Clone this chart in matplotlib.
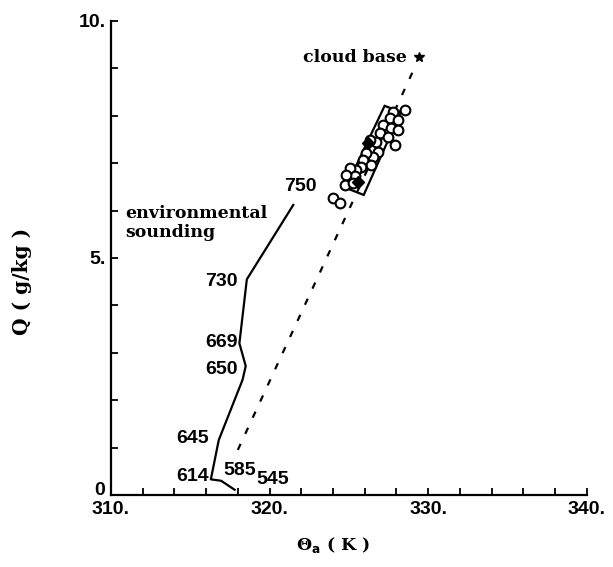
import matplotlib

matplotlib.use("Agg")
import matplotlib.pyplot as plt
import matplotlib.ticker as mticker
from matplotlib.patches import Polygon

# -- environmental sounding (theta_a in K, Q in g/kg) --
sound_theta = [321.5, 318.57, 318.1, 318.5, 318.3, 316.8, 316.3, 316.95, 317.8]
sound_q = [6.12, 4.55, 3.2, 2.72, 2.43, 1.16, 0.33, 0.30, 0.11]

# -- mixing line from the cloud base --
mix_theta = [318.0, 329.2]
mix_q = [0.95, 9.05]
cloud_base = (329.43, 9.23)

# -- cloud samples (open circles) --
samp_theta = [328.53, 327.79, 327.58, 328.10, 327.16, 327.69, 328.10, 326.95,
              327.47, 327.90, 326.74, 326.32, 326.84, 326.53, 326.10, 325.90,
              326.42, 325.79, 325.48, 325.05, 325.37, 324.85, 324.74, 325.26,
              323.99, 324.42]
samp_q = [8.12, 8.09, 7.95, 7.91, 7.81, 7.74, 7.70, 7.63,
          7.56, 7.38, 7.45, 7.49, 7.24, 7.14, 7.21, 7.07,
          6.96, 6.93, 6.86, 6.89, 6.72, 6.75, 6.54, 6.58,
          6.26, 6.15]
filled_theta = [325.58, 326.21]
filled_q = [6.60, 7.42]

# -- box around the samples --
box_theta = [327.26, 328.28, 325.94, 324.80]
box_q = [8.21, 8.08, 6.33, 6.48]

# -- pressure labels along the sounding --
lev_text = ["750", "730", "669", "650", "645", "614", "585", "545"]
lev_theta = [321.96, 316.97, 316.97, 316.97, 315.14, 315.14, 318.1, 320.2]
lev_q = [6.50, 4.51, 3.21, 2.64, 1.20, 0.40, 0.51, 0.32]

NUM_FONT = "Liberation Sans"
TXT_FONT = "DejaVu Serif"

fig = plt.figure(figsize=(6.13, 5.67), dpi=100)
ax = fig.add_axes([0.181, 0.127, 0.776, 0.836])

ax.plot(sound_theta, sound_q, color="black", linewidth=1.6)
ax.plot(mix_theta, mix_q, color="black", linewidth=1.6, linestyle=(0, (3, 5)))
ax.plot(*cloud_base, marker="*", color="black", markersize=7.5)

ax.add_patch(Polygon(list(zip(box_theta, box_q)), closed=True, fill=False,
                     edgecolor="black", linewidth=1.6))
ax.plot(samp_theta, samp_q, "o", markerfacecolor="white", markeredgecolor="black",
        markersize=7, markeredgewidth=1.5)
ax.plot(filled_theta, filled_q, "D", color="black", markersize=6)

for t, x, y in zip(lev_text, lev_theta, lev_q):
    ax.text(x, y, t, ha="center", va="center", fontsize=14,
            fontfamily=NUM_FONT, fontweight="bold")

ax.text(310.9, 5.74, "environmental\nsounding", ha="left", va="center",
        fontsize=12.5, fontfamily=TXT_FONT, fontweight="bold", linespacing=1.1)
ax.text(328.66, 9.22, "cloud base", ha="right", va="center",
        fontsize=12.5, fontfamily=TXT_FONT, fontweight="bold")

ax.set_xlim(310, 340)
ax.set_ylim(0, 10)
ax.xaxis.set_major_locator(mticker.FixedLocator([310, 320, 330, 340]))
ax.xaxis.set_minor_locator(mticker.MultipleLocator(2))
ax.yaxis.set_major_locator(mticker.FixedLocator([0, 5, 10]))
ax.yaxis.set_minor_locator(mticker.MultipleLocator(1))
ax.set_xticklabels(["310.", "320.", "330.", "340."])
ax.set_yticklabels(["0", "5.", "10."])
for lab in ax.get_xticklabels() + ax.get_yticklabels():
    lab.set_fontfamily(NUM_FONT)
    lab.set_fontweight("bold")
    lab.set_fontsize(14)
ax.get_yticklabels()[0].set_va("baseline")

ax.tick_params(which="both", direction="in", length=5, width=1.3, pad=4)
ax.spines["top"].set_visible(False)
ax.spines["right"].set_visible(False)
ax.spines["left"].set_linewidth(1.6)
ax.spines["bottom"].set_linewidth(1.6)

ax.set_xlabel("\u0398$_\\mathbf{a}$ ( K )", fontfamily=TXT_FONT, fontweight="bold",
              fontsize=12.5)
ax.xaxis.set_label_coords(0.466, -0.085)
ax.set_ylabel("Q ( g/kg )", fontfamily=TXT_FONT, fontweight="bold",
              fontsize=14.5)
ax.yaxis.set_label_coords(-0.165, 0.45)

fig.savefig("out.png", dpi=100)
